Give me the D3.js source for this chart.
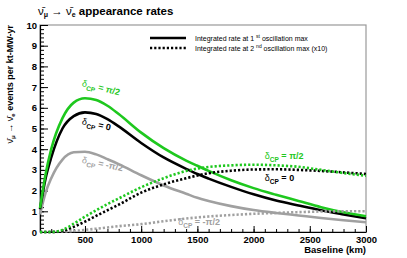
<!DOCTYPE html>
<html>
<head>
<meta charset="utf-8">
<script src="https://cdn.jsdelivr.net/npm/d3@7"></script>
<style>
  body { margin: 0; background: #fff; }
  text { font-family: "Liberation Sans", Arial, sans-serif; }
</style>
</head>
<body>
<script>
var width = 407,
    height = 258;

// baselines (km) for the 1st oscillation max curves
var baseline = [100, 150, 200, 300, 400, 500, 600, 700, 800, 1000, 1200, 1400, 1500, 1600, 1800, 2000, 2200, 2400, 2600, 2800, 3000];
var firstPlus  = [1.15, 2.8, 4.0, 5.5, 6.25, 6.46, 6.38, 6.1, 5.7, 4.8, 4.05, 3.45, 3.2, 2.95, 2.5, 2.12, 1.8, 1.5, 1.2, 0.95, 0.76];
var firstZero  = [1.1, 2.6, 3.6, 5.0, 5.6, 5.78, 5.7, 5.45, 5.1, 4.3, 3.6, 3.05, 2.8, 2.58, 2.18, 1.82, 1.52, 1.28, 1.05, 0.85, 0.66];
var firstMinus = [0.85, 1.9, 2.6, 3.5, 3.85, 3.88, 3.75, 3.52, 3.28, 2.74, 2.25, 1.85, 1.65, 1.5, 1.25, 1.06, 0.92, 0.8, 0.68, 0.57, 0.47];

// 2nd oscillation max curves (x10)
var baseline2 = [100, 200, 300, 400, 500, 600, 700, 800, 1000, 1200, 1400, 1600, 1800, 2000, 2200, 2400, 2600, 2800, 3000];
var secondPlus  = [0, 0, 0.1, 0.4, 0.74, 1.05, 1.35, 1.62, 2.16, 2.6, 2.95, 3.14, 3.22, 3.25, 3.22, 3.15, 3.0, 2.85, 2.72];
var secondZero  = [0, 0, 0.05, 0.25, 0.5, 0.78, 1.05, 1.32, 1.9, 2.3, 2.6, 2.84, 2.96, 3.02, 3.03, 3.0, 2.95, 2.88, 2.8];
var secondMinus = [0, 0, 0.02, 0.05, 0.1, 0.16, 0.22, 0.28, 0.38, 0.52, 0.65, 0.75, 0.82, 0.88, 0.92, 0.96, 0.99, 1.0, 1.0];

var xTicks = [500, 1000, 1500, 2000, 2500, 3000];
var yTicks = [0, 1, 2, 3, 4, 5, 6, 7, 8, 9, 10];

var green = "#1ec81e",
    grey = "#a0a0a0";

var svg = d3.select("body").append("svg")
    .attr("width", width)
    .attr("height", height);

var x = d3.scaleLinear().domain([100, 3000]).range([40, 366]);
var y = d3.scaleLinear().domain([0, 10]).range([232, 25]);

// frame
svg.append("rect")
    .attr("x", x(100)).attr("y", y(10))
    .attr("width", x(3000) - x(100)).attr("height", y(0) - y(10))
    .attr("fill", "none").attr("stroke", "#999").attr("stroke-width", 1.2);

// minor ticks
svg.append("g")
    .attr("transform", "translate(0," + y(0) + ")")
    .call(d3.axisBottom(x).tickValues(d3.range(100, 3001, 100)).tickSize(-3).tickFormat(""))
    .call(function(g) { g.select(".domain").remove(); });
svg.append("g")
    .attr("transform", "translate(" + x(100) + ",0)")
    .call(d3.axisLeft(y).tickValues(d3.range(0, 10.01, 0.2)).tickSize(-4).tickFormat(""))
    .call(function(g) { g.select(".domain").remove(); });

// major axes
svg.append("g")
    .attr("transform", "translate(0," + y(0) + ")")
    .call(d3.axisBottom(x).tickValues(xTicks).tickFormat(d3.format("d"))
      .tickSizeInner(-6).tickSizeOuter(0).tickPadding(4));
svg.append("g")
    .attr("transform", "translate(" + x(100) + ",0)")
    .call(d3.axisLeft(y).tickValues(yTicks).tickFormat(d3.format("d"))
      .tickSizeInner(-8).tickSizeOuter(0).tickPadding(3));

svg.selectAll(".tick text")
    .style("font-family", "Liberation Sans, Arial, sans-serif")
    .style("font-size", "9.5px")
    .style("font-weight", "bold")
    .attr("fill", "#000");
svg.selectAll(".domain").attr("stroke", "#000").attr("stroke-width", 1.2);

// curves
var line = d3.line()
    .x(function(d) { return x(d[0]); })
    .y(function(d) { return y(d[1]); })
    .curve(d3.curveMonotoneX);

var curves = [
  {xs: baseline, ys: firstMinus, color: grey, dash: null},
  {xs: baseline, ys: firstZero, color: "#000", dash: null},
  {xs: baseline, ys: firstPlus, color: green, dash: null},
  {xs: baseline2, ys: secondMinus, color: grey, dash: "2.2,2"},
  {xs: baseline2, ys: secondZero, color: "#000", dash: "2.2,2"},
  {xs: baseline2, ys: secondPlus, color: green, dash: "2.2,2"}
];

svg.append("g").selectAll("path")
    .data(curves)
    .enter().append("path")
    .attr("d", function(c) { return line(d3.zip(c.xs, c.ys)); })
    .attr("fill", "none")
    .attr("stroke", function(c) { return c.color; })
    .attr("stroke-width", 2.6)
    .attr("stroke-dasharray", function(c) { return c.dash; });

// delta labels
var labels = [
  {km: 470, v: 7.05, rot: 14, text: "π/2", color: green},
  {km: 470, v: 5.2, rot: 12, text: "0", color: "#000"},
  {km: 470, v: 3.35, rot: 12, text: "-π/2", color: grey},
  {km: 2100, v: 3.55, rot: 0, text: "π/2", color: green},
  {km: 2100, v: 2.45, rot: 0, text: "0", color: "#000"},
  {km: 1330, v: 0.33, rot: 0, text: "-π/2", color: grey}
];

var lab = svg.append("g").selectAll("text")
    .data(labels)
    .enter().append("text")
    .attr("transform", function(d) { return "translate(" + x(d.km) + "," + y(d.v) + ") rotate(" + d.rot + ")"; })
    .attr("fill", function(d) { return d.color; })
    .style("font-size", "9px")
    .style("font-weight", "bold");
lab.append("tspan").text("δ").style("font-weight", "normal");
lab.append("tspan").attr("dy", 3).style("font-size", "6.5px").text("CP");
lab.append("tspan").attr("dy", -3).text(function(d) { return " = " + d.text; });

// legend
var legend = [
  {dash: null, n: "1", sup: "st", tail: " oscillation max"},
  {dash: "2.2,2", n: "2", sup: "nd", tail: " oscillation max (x10)"}
];
var lg = svg.append("g").selectAll("g")
    .data(legend)
    .enter().append("g")
    .attr("transform", function(d, i) { return "translate(150," + (38 + i * 10) + ")"; });
lg.append("line")
    .attr("x1", 0).attr("x2", 36)
    .attr("stroke", "#000").attr("stroke-width", 2.6)
    .attr("stroke-dasharray", function(d) { return d.dash; });
var lt = lg.append("text")
    .attr("x", 45).attr("y", 2.5)
    .style("font-size", "7px");
lt.append("tspan").text(function(d) { return "Integrated rate at " + d.n + " "; });
lt.append("tspan").attr("dy", -3).style("font-size", "5px").text(function(d) { return d.sup; });
lt.append("tspan").attr("dy", 3).text(function(d) { return d.tail; });

// title
var title = svg.append("text")
    .attr("x", 38).attr("y", 15)
    .style("font-size", "11.5px")
    .style("font-weight", "bold");
title.append("tspan").text("ν\u0304").style("font-weight", "normal");
title.append("tspan").attr("dy", 2).style("font-size", "7px").text("μ");
title.append("tspan").attr("dy", -2).text(" → ");
title.append("tspan").text("ν\u0304").style("font-weight", "normal");
title.append("tspan").attr("dy", 2).style("font-size", "7px").text("e");
title.append("tspan").attr("dy", -2).text(" appearance rates");

// axis titles
svg.append("text")
    .attr("x", 366).attr("y", 253)
    .attr("text-anchor", "end")
    .style("font-size", "9.5px")
    .style("font-weight", "bold")
    .text("Baseline (km)");

var yl = svg.append("text")
    .attr("transform", "translate(13,25) rotate(-90)")
    .attr("text-anchor", "end")
    .style("font-size", "9px")
    .style("font-weight", "bold");
yl.append("tspan").text("ν\u0304").style("font-weight", "normal");
yl.append("tspan").attr("dy", 2).style("font-size", "6px").text("μ");
yl.append("tspan").attr("dy", -2).text(" → ");
yl.append("tspan").text("ν\u0304").style("font-weight", "normal");
yl.append("tspan").attr("dy", 2).style("font-size", "6px").text("e");
yl.append("tspan").attr("dy", -2).text(" events per kt-MW-yr");
</script>
</body>
</html>
